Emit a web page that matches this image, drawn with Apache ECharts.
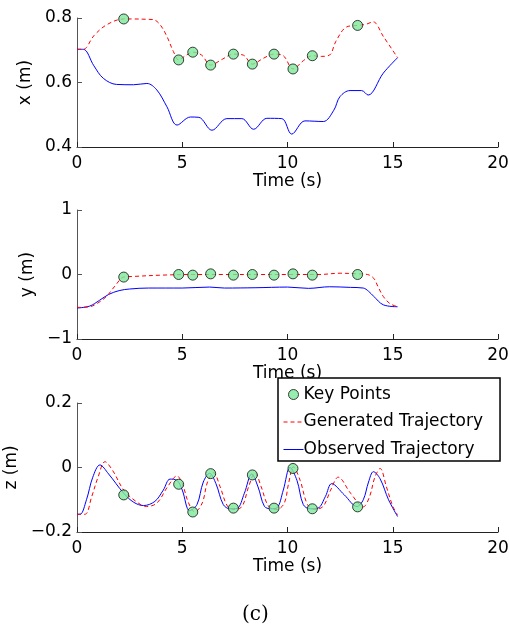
<!DOCTYPE html>
<html>
<head>
<meta charset="utf-8">
<script src="https://cdn.jsdelivr.net/npm/echarts@6/dist/echarts.min.js"></script>
<style>
html,body{margin:0;padding:0;background:#fff;}
#c{width:509px;height:630px;}
</style>
</head>
<body>
<div id="c"></div>
<script>
// ---- Data ----
var timeTicks = [0, 5, 10, 15, 20];

var keyT = [2.22, 4.83, 5.50, 6.35, 7.43, 8.33, 9.36, 10.26, 11.18, 13.33];
var keyX = [0.797, 0.670, 0.694, 0.654, 0.688, 0.657, 0.688, 0.642, 0.683, 0.777];
var keyY = [-0.04, 0.0, -0.01, 0.01, -0.01, 0.0, -0.01, 0.01, -0.01, 0.0];
var keyZ = [-0.085, -0.052, -0.138, -0.019, -0.126, -0.023, -0.126, -0.003, -0.128, -0.122];

var genXT = [0, 0.3, 0.8, 1.41, 2.22, 2.68, 3.3, 3.63, 3.95, 4.27, 4.58, 4.83, 5.13, 5.50, 5.92, 6.35, 6.9, 7.43, 7.9, 8.33, 8.85, 9.36, 9.8, 10.26, 10.76, 11.18, 11.6, 12.0, 12.3, 12.8, 13.33, 13.7, 14.07, 14.55, 15.23];
var genXV = [0.703, 0.703, 0.745, 0.779, 0.797, 0.797, 0.796, 0.795, 0.779, 0.743, 0.696, 0.670, 0.682, 0.694, 0.685, 0.654, 0.672, 0.688, 0.685, 0.657, 0.675, 0.688, 0.683, 0.642, 0.668, 0.683, 0.681, 0.685, 0.728, 0.772, 0.777, 0.780, 0.788, 0.743, 0.677];

var obsXT = [0, 0.3, 0.8, 1.25, 1.88, 2.68, 3.32, 3.79, 4.27, 4.75, 5.39, 5.79, 6.41, 7.12, 7.83, 8.39, 9.02, 9.73, 10.2, 10.83, 11.7, 12.2, 12.49, 12.97, 13.52, 13.83, 14.55, 15.23];
var obsXV = [0.703, 0.703, 0.652, 0.613, 0.594, 0.593, 0.597, 0.577, 0.525, 0.468, 0.493, 0.492, 0.452, 0.488, 0.488, 0.455, 0.489, 0.488, 0.440, 0.481, 0.479, 0.514, 0.556, 0.575, 0.575, 0.561, 0.629, 0.677];

var genYT = [0, 0.6, 1.0, 1.4, 1.8, 2.22, 2.7, 4, 5.5, 7, 8.5, 10, 11.5, 12.5, 13.3, 13.8, 14.1, 14.3, 14.55, 14.86, 15.23];
var genYV = [-0.51, -0.50, -0.44, -0.34, -0.18, -0.04, -0.03, -0.01, 0.0, 0.0, 0.0, 0.0, 0.0, 0.02, 0.01, 0.0, -0.06, -0.19, -0.34, -0.45, -0.50];

var obsYT = [0, 0.6, 1.07, 1.5, 2.0, 2.5, 3.4, 5, 6.3, 7, 8.5, 10, 11, 12, 13, 13.6, 13.85, 14.1, 14.55, 15.23];
var obsYV = [-0.52, -0.49, -0.40, -0.31, -0.25, -0.225, -0.21, -0.21, -0.195, -0.21, -0.205, -0.195, -0.215, -0.19, -0.2, -0.21, -0.26, -0.34, -0.47, -0.50];

var genZT = [0, 0.38, 0.7, 1.0, 1.33, 1.7, 2.22, 2.8, 3.3, 3.8, 4.3, 4.75, 5.0, 5.3, 5.6, 5.95, 6.2, 6.49, 6.8, 7.15, 7.5, 7.85, 8.15, 8.46, 8.75, 9.1, 9.5, 9.85, 10.05, 10.28, 10.6, 10.95, 11.3, 11.7, 12.05, 12.41, 13.0, 13.6, 13.9, 14.15, 14.4, 14.7, 15.0, 15.23];
var genZV = [-0.145, -0.145, -0.09, -0.03, 0.018, -0.01, -0.07, -0.105, -0.121, -0.11, -0.06, -0.026, -0.05, -0.11, -0.138, -0.11, -0.045, -0.016, -0.06, -0.12, -0.13, -0.12, -0.06, -0.016, -0.06, -0.12, -0.13, -0.11, -0.05, 0.002, -0.04, -0.115, -0.13, -0.12, -0.07, -0.03, -0.08, -0.122, -0.09, -0.03, -0.003, -0.06, -0.12, -0.147];

var obsZT = [0, 0.15, 0.45, 0.75, 1.09, 1.5, 2.22, 2.7, 3.16, 3.7, 4.1, 4.42, 4.75, 5.0, 5.35, 5.7, 6.0, 6.3, 6.6, 6.95, 7.27, 7.6, 7.95, 8.3, 8.6, 8.9, 9.2, 9.5, 9.8, 10.12, 10.45, 10.75, 11.08, 11.45, 11.8, 12.1, 12.7, 13.3, 13.6, 13.85, 14.08, 14.4, 14.8, 15.23];
var obsZV = [-0.145, -0.145, -0.10, -0.03, 0.008, -0.02, -0.08, -0.108, -0.118, -0.105, -0.07, -0.036, -0.04, -0.07, -0.134, -0.115, -0.045, -0.018, -0.05, -0.115, -0.128, -0.127, -0.08, -0.02, -0.06, -0.12, -0.128, -0.125, -0.07, 0.0, -0.04, -0.115, -0.128, -0.126, -0.09, -0.05, -0.085, -0.121, -0.10, -0.045, -0.013, -0.035, -0.10, -0.152];

var yNames = ['x (m)', 'y (m)', 'z (m)'];
var yRanges = [[0.4, 0.8, 0.2], [-1, 1, 1], [-0.2, 0.2, 0.2]];
var legendNames = ['Key Points', 'Generated Trajectory', 'Observed Trajectory'];
var caption = '(c)';

// ---- Build ----
function pairs(t, v) { return t.map(function (x, i) { return [x, v[i]]; }); }
function fmt(v) {
  var s = String(Math.round(v * 1000) / 1000);
  return s.replace('-', '\u2212');
}
var FONT = 'DejaVu Sans';
var grids = [
  { left: 77, right: 11, top: 18, height: 129, outerBoundsMode: 'none', containLabel: false },
  { left: 77, right: 11, top: 210, height: 129, outerBoundsMode: 'none', containLabel: false },
  { left: 77, right: 11, top: 403, height: 129, outerBoundsMode: 'none', containLabel: false }
];
var xAxes = [], yAxes = [], series = [];
var keyV = [keyX, keyY, keyZ];
var genT = [genXT, genYT, genZT], genV = [genXV, genYV, genZV];
var obsT = [obsXT, obsYT, obsZT], obsV = [obsXV, obsYV, obsZV];
for (var i = 0; i < 3; i++) {
  xAxes.push({
    gridIndex: i, type: 'value', min: timeTicks[0], max: timeTicks[timeTicks.length - 1], interval: 5,
    name: 'Time (s)', nameLocation: 'middle', nameGap: 24,
    nameTextStyle: { fontFamily: FONT, fontSize: 17, color: '#000' },
    axisLine: { show: true, onZero: false, lineStyle: { color: '#222', width: 1 } },
    axisTick: { show: true, inside: true, length: 5, lineStyle: { color: '#222' } },
    axisLabel: { fontFamily: FONT, fontSize: 17, color: '#000', margin: 8 },
    splitLine: { show: false }
  });
  yAxes.push({
    gridIndex: i, type: 'value', min: yRanges[i][0], max: yRanges[i][1], interval: yRanges[i][2],
    name: yNames[i], nameLocation: 'middle', nameGap: 26, nameRotate: 90,
    nameTextStyle: { fontFamily: FONT, fontSize: 17, color: '#000' },
    axisLine: { show: true, onZero: false, lineStyle: { color: '#555', width: 1 } },
    axisTick: { show: true, inside: true, length: 5, lineStyle: { color: '#555' } },
    axisLabel: { fontFamily: FONT, fontSize: 17, color: '#000', margin: 5, formatter: fmt },
    splitLine: { show: false }
  });
  series.push({
    name: legendNames[2], type: 'line', xAxisIndex: i, yAxisIndex: i,
    data: pairs(obsT[i], obsV[i]), smooth: 0.35, symbol: 'none',
    lineStyle: { color: '#0000ff', width: 1 }, itemStyle: { color: '#0000ff' }, z: 2
  });
  series.push({
    name: legendNames[1], type: 'line', xAxisIndex: i, yAxisIndex: i,
    data: pairs(genT[i], genV[i]), smooth: 0.35, symbol: 'none',
    lineStyle: { color: '#ff0000', width: 1, type: [4, 3] }, itemStyle: { color: '#ff0000' }, z: 3
  });
  series.push({
    name: legendNames[0], type: 'scatter', xAxisIndex: i, yAxisIndex: i,
    data: pairs(keyT, keyV[i]), symbol: 'circle', symbolSize: 10,
    itemStyle: { color: '#7de89a', borderColor: '#111', borderWidth: 1 }, z: 4
  });
}

var chart = echarts.init(document.getElementById('c'), null, { renderer: 'canvas' });
chart.setOption({
  backgroundColor: '#fff',
  animation: false,
  grid: grids,
  xAxis: xAxes,
  yAxis: yAxes,
  series: series,
  legend: {
    data: [
      { name: legendNames[0], icon: 'circle', itemStyle: { color: '#7de89a', borderColor: '#111', borderWidth: 1 } },
      { name: legendNames[1], itemStyle: { opacity: 0 } },
      { name: legendNames[2], itemStyle: { opacity: 0 } }
    ],
    orient: 'vertical', left: 278, top: 378,
    backgroundColor: '#fff', borderColor: '#000', borderWidth: 1.5, borderRadius: 0,
    padding: [8, 17, 3, 5], itemGap: 10.5, itemWidth: 20, itemHeight: 10,
    lineStyle: { width: 1 },
    textStyle: { fontFamily: FONT, fontSize: 17, color: '#000', padding: [0, 0, 0, -5] },
    selectedMode: false
  },
  graphic: [{
    type: 'text', left: 242, top: 605,
    style: { text: caption, font: '20px "DejaVu Serif"', fill: '#000' }
  }]
});
</script>
</body>
</html>
